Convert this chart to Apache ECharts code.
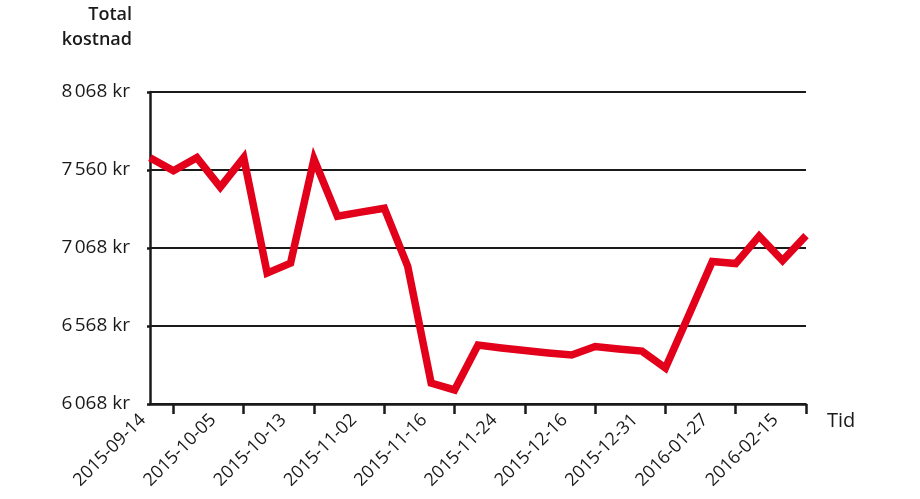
<!DOCTYPE html>
<html>
<head>
<meta charset="utf-8">
<script src="https://cdn.jsdelivr.net/npm/echarts@6/dist/echarts.min.js"></script>
<style>
html,body{margin:0;padding:0;background:#fff;}
#chart{width:920px;height:499px;}
</style>
</head>
<body>
<div id="chart"></div>
<script>
var dates = [
  '2015-09-14','2015-09-21','2015-09-28','2015-10-05','2015-10-07','2015-10-09',
  '2015-10-13','2015-10-19','2015-10-26','2015-11-02','2015-11-06','2015-11-11',
  '2015-11-16','2015-11-19','2015-11-22','2015-11-24','2015-12-01','2015-12-08',
  '2015-12-16','2015-12-21','2015-12-26','2015-12-31','2016-01-08','2016-01-18',
  '2016-01-27','2016-02-02','2016-02-08','2016-02-15','2016-02-22'
];
var totalCost = [
  7647, 7563, 7647, 7458, 7647, 6907,
  6971, 7637, 7272, 7298, 7323, 6950,
  6202, 6158, 6446, 6427, 6411, 6395,
  6382, 6436, 6420, 6407, 6299, 6638,
  6981, 6968, 7144, 6987, 7147
];
var yTickLabels = ['6\u202F068 kr', '6\u202F568 kr', '7\u202F068 kr', '7\u202F560 kr', '8\u202F068 kr'];
var titleLines = ['Total', 'kostnad'];
var yMin = 6068, yMax = 8068, yStep = 500;

var FONT = '"Open Sans", "Noto Sans", sans-serif';
var chart = echarts.init(document.getElementById('chart'), null, {renderer: 'canvas'});
chart.setOption({
  animation: false,
  backgroundColor: '#ffffff',
  textStyle: {fontFamily: FONT},
  grid: {left: 150, right: 114, top: 92, bottom: 95, containLabel: false},
  graphic: titleLines.map(function (t, i) {
    return {
      type: 'text',
      right: 920 - 132,
      top: 6 + i * 25,
      style: {
        text: t,
        font: '600 18px ' + FONT,
        fill: '#1a1a1a'
      }
    };
  }),
  xAxis: {
    type: 'category',
    data: dates,
    boundaryGap: false,
    name: 'Tid',
    nameLocation: 'end',
    nameGap: 21,
    nameTextStyle: {fontSize: 20, fontWeight: 500, color: '#1a1a1a', verticalAlign: 'top', padding: [7, 0, 0, 0]},
    axisLine: {lineStyle: {color: '#1a1a1a', width: 2.5}},
    axisTick: {
      show: true,
      length: 10,
      interval: function (idx) { return idx % 3 === 1; },
      lineStyle: {color: '#1a1a1a', width: 2.5}
    },
    axisLabel: {
      interval: function (idx) { return idx % 3 === 0; },
      rotate: 45,
      fontSize: 18,
      color: '#1a1a1a',
      margin: 6,
      padding: [0, 10, 0, 0]
    },
    splitLine: {show: false}
  },
  yAxis: {
    type: 'value',
    min: yMin,
    max: yMax,
    interval: yStep,
    axisLine: {show: true, lineStyle: {color: '#1a1a1a', width: 2.5}},
    axisTick: {show: true, length: 3, lineStyle: {color: '#1a1a1a', width: 2.5}},
    axisLabel: {
      margin: 20,
      fontSize: 19,
      color: '#1a1a1a',
      formatter: function (v) {
        var k = Math.round((v - yMin) / yStep);
        return yTickLabels[k] !== undefined ? yTickLabels[k] : '';
      }
    },
    splitLine: {show: true, lineStyle: {color: '#1a1a1a', width: 2.2}}
  },
  series: [{
    type: 'line',
    name: 'Total kostnad',
    data: totalCost,
    showSymbol: false,
    symbol: 'none',
    lineStyle: {color: '#e2001a', width: 7.5, join: 'miter'},
    itemStyle: {color: '#e2001a'},
    z: 5
  }]
});
</script>
</body>
</html>
